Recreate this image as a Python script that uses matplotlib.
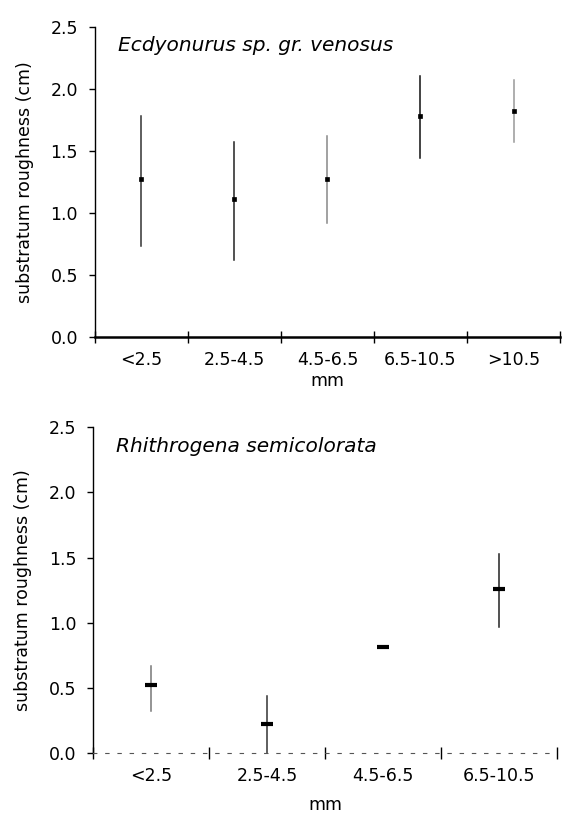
import matplotlib.pyplot as plt
import numpy as np

plt.rcParams['font.family'] = ['DejaVu Sans']

# Ecdyonurus sp. gr. venosus
cats_top = ['<2.5', '2.5-4.5', '4.5-6.5', '6.5-10.5', '>10.5']
mean_top = [1.27, 1.11, 1.27, 1.78, 1.82]
hi_top = [1.78, 1.57, 1.62, 2.10, 2.07]
lo_top = [0.73, 0.62, 0.92, 1.44, 1.57]

# Rhithrogena semicolorata
cats_bot = ['<2.5', '2.5-4.5', '4.5-6.5', '6.5-10.5']
mean_bot = [0.52, 0.22, 0.81, 1.26]
hi_bot = [0.67, 0.44, 0.81, 1.53]
lo_bot = [0.32, 0.0, 0.81, 0.97]

fig = plt.figure(figsize=(5.64, 8.14), dpi=100)
ax1 = fig.add_axes([0.168, 0.586, 0.825, 0.381])
ax2 = fig.add_axes([0.165, 0.075, 0.823, 0.400])


def style(ax, cats, mean, lo, hi, title, bar_colors, mk, ms, mew):
    x = np.arange(len(cats)) + 0.5
    for xi, m, l, h, c in zip(x, mean, lo, hi, bar_colors):
        ax.plot([xi, xi], [l, h], color=c, lw=1.1, zorder=2)
    ax.plot(x, mean, linestyle='none', marker=mk, ms=ms, mew=mew,
            color='black', zorder=3)
    ax.set_xlim(0, len(cats))
    ax.set_ylim(0, 2.5)
    ax.set_yticks(np.arange(0, 2.51, 0.5))
    ax.set_yticklabels(['%.1f' % v for v in np.arange(0, 2.51, 0.5)])
    ax.set_xticks(np.arange(len(cats) + 1))
    ax.set_xticklabels([])
    ax.set_xticks(x, minor=True)
    ax.set_xticklabels(cats, minor=True)
    ax.tick_params(axis='x', which='major', direction='inout', length=8, width=1)
    ax.tick_params(axis='x', which='minor', length=0, pad=10, labelsize=12.5)
    ax.tick_params(axis='y', direction='out', length=4, width=1, labelsize=12.5, pad=8)
    ax.spines['top'].set_visible(False)
    ax.spines['right'].set_visible(False)
    ax.spines['left'].set_linewidth(1)
    ax.set_ylabel('substratum roughness (cm)', fontsize=12.5, labelpad=12)
    ax.set_xlabel('mm', fontsize=12.5, labelpad=2)
    ax.text(0.05, 0.94, title, transform=ax.transAxes, style='italic',
            fontsize=14.5, va='center', ha='left')


style(ax1, cats_top, mean_top, lo_top, hi_top, 'Ecdyonurus sp. gr. venosus',
      ['#333333', '#222222', '#888888', '#111111', '#999999'], 's', 3, 0.5)
ax1.spines['bottom'].set_linewidth(1.8)

style(ax2, cats_bot, mean_bot, lo_bot, hi_bot, 'Rhithrogena semicolorata',
      ['#777777', '#333333', '#333333', '#222222'], '_', 8, 3)
ax2.spines['bottom'].set_linestyle((0, (3, 8)))
ax2.spines['bottom'].set_color('#555555')
ax2.spines['bottom'].set_linewidth(0.8)
ax2.xaxis.labelpad = 8

plt.savefig('out.png', dpi=100)
